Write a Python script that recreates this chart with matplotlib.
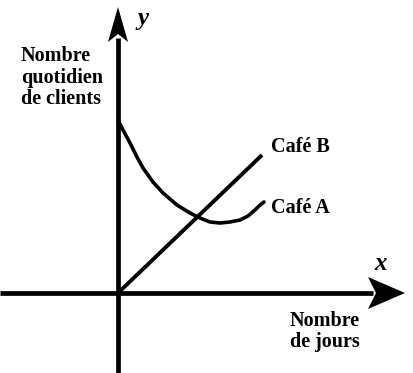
import numpy as np
import matplotlib.pyplot as plt
from matplotlib.patches import Polygon

# Café A: daily customers vs days (schematic)
cafe_a_x = [0, 5, 12, 19, 25, 35, 45, 59, 72, 82, 92, 102, 112, 122, 130, 137, 142, 146]
cafe_a_y = [173, 163, 150, 136, 125, 111, 100, 88, 80, 75, 71, 70, 71, 73, 77, 83, 88, 91]
# Café B: straight line from the origin
cafe_b_x = [0, 144]
cafe_b_y = [0, 138]

serif = ['Liberation Serif', 'DejaVu Serif']

fig = plt.figure(figsize=(4.14, 3.73), dpi=100)
ax = fig.add_axes([0, 0, 1, 1])
ax.set_xlim(-118, 296)
ax.set_ylim(-80, 293)
ax.axis('off')

# axes lines
ax.plot([-118, 255], [0, 0], color='black', lw=3.4, solid_capstyle='butt')
ax.plot([0, 0], [-80, 255], color='black', lw=3.4, solid_capstyle='butt')

# arrow heads with a notched back
def head(tip, back, half, notch, horiz):
    if horiz:
        pts = [(tip, 0), (back, half), (back + notch, 0), (back, -half)]
    else:
        pts = [(0, tip), (half, back), (0, back + notch), (-half, back)]
    ax.add_patch(Polygon(pts, closed=True, color='black', lw=0))

head(287, 250, 16, 8, True)
head(286, 251, 10, 8, False)

# curves
ax.plot(cafe_a_x, cafe_a_y, color='black', lw=2.6, solid_capstyle='round',
        solid_joinstyle='round')
ax.plot(cafe_b_x, cafe_b_y, color='black', lw=2.8, solid_capstyle='butt')

ax.text(20, 268, 'y', family=serif, style='italic', weight='bold', fontsize=18,
        ha='left', va='baseline')
ax.text(256, 23, 'x', family=serif, style='italic', weight='bold', fontsize=18,
        ha='left', va='baseline')
ax.text(-97, 247, 'Nombre\nquotidien\nde clients', family=serif, weight='bold',
        fontsize=14.5, ha='left', va='top', linespacing=1.1)
ax.text(207, -18, 'Nombre\nde jours', family=serif, weight='bold',
        fontsize=14.5, ha='center', va='top', linespacing=1.05)
ax.text(153, 141, 'Café B', family=serif, weight='bold', fontsize=14.5,
        ha='left', va='baseline')
ax.text(153, 80, 'Café A', family=serif, weight='bold', fontsize=14.5,
        ha='left', va='baseline')

fig.savefig('out.png', dpi=100, facecolor='white')
